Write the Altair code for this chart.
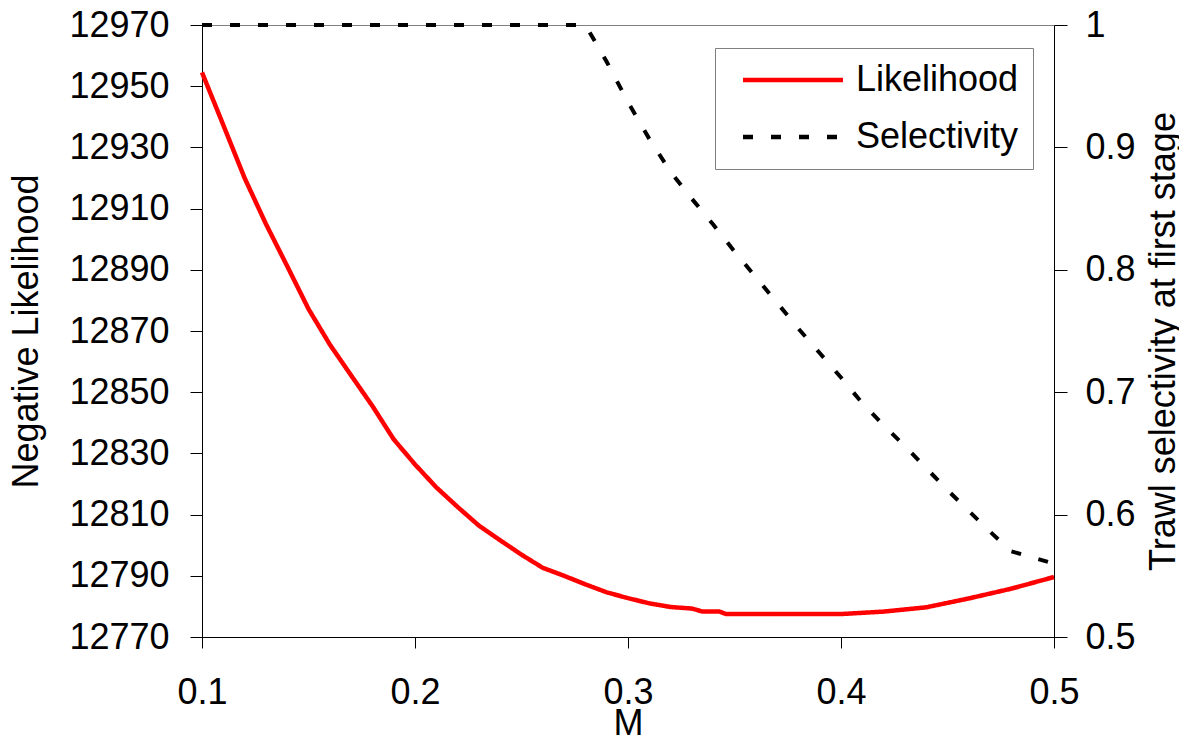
import altair as alt
import pandas as pd

# ---- data ----
m_like = [0.10, 0.11, 0.12, 0.13, 0.14, 0.15, 0.16, 0.17, 0.18, 0.19, 0.20,
          0.21, 0.22, 0.23, 0.24, 0.25, 0.26, 0.27, 0.28, 0.29, 0.30, 0.31,
          0.32, 0.33, 0.335, 0.343, 0.346, 0.36, 0.38, 0.40, 0.42, 0.44,
          0.46, 0.48, 0.50]
nll = [12954.5, 12937.3, 12920.0, 12905.0, 12891.2, 12877.2, 12865.6, 12855.5,
       12845.5, 12834.6, 12826.4, 12818.9, 12812.5, 12806.4, 12801.6, 12796.9,
       12792.6, 12790.0, 12787.2, 12784.6, 12782.7, 12781.0, 12779.8, 12779.3,
       12778.3, 12778.3, 12777.5, 12777.5, 12777.5, 12777.5, 12778.3, 12779.7,
       12782.6, 12785.8, 12789.6]

m_sel = [0.10, 0.28, 0.29, 0.30, 0.31, 0.32, 0.33, 0.34, 0.35, 0.36, 0.37,
         0.38, 0.39, 0.40, 0.41, 0.42, 0.43, 0.44, 0.45, 0.46, 0.47, 0.48,
         0.49, 0.50]
sel = [1.0, 1.0, 0.970, 0.937, 0.907, 0.880, 0.858, 0.837, 0.815, 0.794, 0.773,
       0.752, 0.732, 0.712, 0.691, 0.673, 0.656, 0.638, 0.620, 0.603, 0.586,
       0.570, 0.565, 0.560]

series_names = ["Likelihood", "Selectivity"]
series_colors = ["#ff0000", "#000000"]
series_dashes = [[1, 0], [10, 18]]

x_ticks = [0.1, 0.2, 0.3, 0.4, 0.5]
left_ticks = [12770, 12790, 12810, 12830, 12850, 12870, 12890, 12910, 12930, 12950, 12970]
right_ticks = [0.5, 0.6, 0.7, 0.8, 0.9, 1.0]

like_df = pd.DataFrame({"M": m_like, "value": nll, "series": series_names[0]})
sel_df = pd.DataFrame({"M": m_sel, "value": sel, "series": series_names[1]})

FONT = "Liberation Sans"
FS = 36

legend = alt.Legend(
    title=None, orient="none", legendX=513, legendY=23,
    symbolType="M-4,0L4,0", symbolSize=625, symbolStrokeWidth=4.5,
    symbolOffset=46, padding=14, labelOffset=45, rowPadding=21,
    labelFont=FONT, labelFontSize=FS, labelColor="black", labelLimit=400,
    strokeColor="#808080", fillColor="white",
)

color = alt.Color("series:N", scale=alt.Scale(domain=series_names, range=series_colors), legend=legend)
dash = alt.StrokeDash("series:N", scale=alt.Scale(domain=series_names, range=series_dashes), legend=legend)

x_enc = alt.X(
    "M:Q",
    scale=alt.Scale(domain=[0.1, 0.5], nice=False, zero=False),
    axis=alt.Axis(values=x_ticks, format=".1f", title="M", titleY=97,
                  titleBaseline="alphabetic", labelBaseline="alphabetic",
                  labelPadding=55, tickSize=11, labelFlush=False, grid=False),
)

like_layer = alt.Chart(like_df).mark_line(strokeWidth=4.5).encode(
    x=x_enc,
    y=alt.Y("value:Q",
            scale=alt.Scale(domain=[12770, 12970], nice=False, zero=False),
            axis=alt.Axis(values=left_ticks, format="d", title="Negative Likelihood",
                          orient="left", titleX=-165, titleY=306, titleAngle=270,
                          titleAlign="center", titleBaseline="alphabetic",
                          labelPadding=21, tickSize=12, labelFlush=False, grid=False)),
    color=color,
    strokeDash=dash,
)

sel_layer = alt.Chart(sel_df).mark_line(strokeWidth=4).encode(
    x=x_enc,
    y=alt.Y("value:Q",
            scale=alt.Scale(domain=[0.5, 1.0], nice=False, zero=False),
            axis=alt.Axis(values=right_ticks, format=".1~f",
                          title="Trawl selectivity at first stage",
                          orient="right", titleX=120, titleY=316, titleAngle=270,
                          titleAlign="center", titleBaseline="alphabetic",
                          labelPadding=18, tickSize=13, labelFlush=False, grid=False)),
    color=color,
    strokeDash=dash,
)

chart = (
    alt.layer(like_layer, sel_layer)
    .resolve_scale(y="independent")
    .properties(width=852, height=612, background="white",
                padding={"left": 194, "top": 17, "right": 125, "bottom": 98},
                autosize=alt.AutoSizeParams(type="none"))
    .configure_axis(labelFont=FONT, labelFontSize=FS, titleFont=FONT,
                    titleFontSize=FS, titleFontWeight="normal",
                    labelColor="black", titleColor="black",
                    domainColor="black", tickColor="black",
                    domainWidth=1, tickWidth=1, labelOverlap=False)
    .configure_view(stroke="#808080", strokeWidth=1)
)

chart.save("out.html", embed_options={"renderer": "svg", "actions": False})
